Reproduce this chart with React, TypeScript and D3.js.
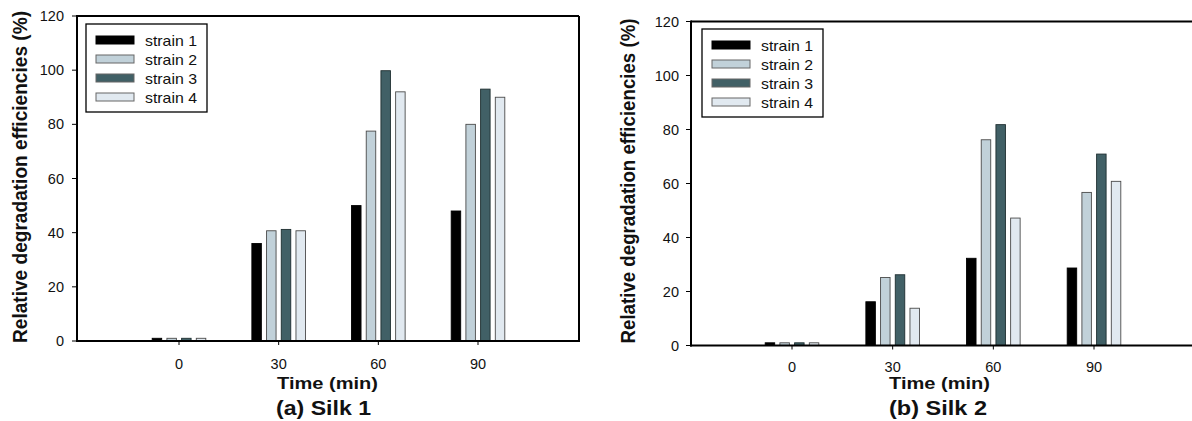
import React from "react";
import * as d3 from "d3";

const times = [0, 30, 60, 90];
const strains = ["strain 1", "strain 2", "strain 3", "strain 4"];
const silk1 = [
  [1, 36, 50, 48],
  [1, 40.7, 77.5, 80],
  [1, 41.2, 99.8, 93],
  [1, 40.7, 92, 90],
];
const silk2 = [
  [1, 16.2, 32.3, 28.7],
  [1, 25.2, 76.2, 56.7],
  [1, 26.2, 81.8, 70.9],
  [1, 13.8, 47.2, 60.8],
];
const yTicks = [0, 20, 40, 60, 80, 100, 120];
const colors = ["#000000", "#c1d1d9", "#416066", "#e1e9f0"];
const strokes = ["#000000", "#4a4a4a", "#1e2e30", "#4a4a4a"];

const FONT = "'Liberation Sans', Arial, Helvetica, sans-serif";

type PanelProps = {
  data: number[][];
  left: number;
  right: number;
  top: number;
  bottom: number;
  x0: number;
  x90: number;
  legend: { x: number; y: number };
  ytitle: { x: number; y: number; len: number };
  xtitle: { x: number; y: number };
  caption: { x: number; y: number; text: string; w: number };
  yLabelRight: number;
  xLabelY: number;
  showRight: boolean;
};

function Panel(p: PanelProps) {
  const x = d3.scaleLinear().domain([0, 90]).range([p.x0, p.x90]);
  const y = d3.scaleLinear().domain([0, 120]).range([p.bottom, p.top]);
  const band = d3
    .scaleBand<string>()
    .domain(strains)
    .range([-29.4, 29.4])
    .paddingInner(0.354)
    .paddingOuter(0.177);
  return (
    <g>
      {strains.map((s, si) =>
        times.map((t, ti) => {
          const v = p.data[si][ti];
          const bx = x(t) + (band(s) as number);
          return (
            <rect
              key={s + t}
              x={bx}
              y={y(v)}
              width={band.bandwidth()}
              height={p.bottom - y(v)}
              fill={colors[si]}
              stroke={strokes[si]}
              strokeWidth={0.9}
            />
          );
        })
      )}
      <line x1={p.left} x2={p.right} y1={p.top} y2={p.top} stroke="#000" strokeWidth={2} />
      {p.showRight && (
        <line x1={p.right} x2={p.right} y1={p.top} y2={p.bottom} stroke="#000" strokeWidth={2} />
      )}
      <line x1={p.left} x2={p.left} y1={p.top - 1} y2={p.bottom + 1} stroke="#000" strokeWidth={2} />
      <line x1={p.left - 1} x2={p.right + 1} y1={p.bottom} y2={p.bottom} stroke="#000" strokeWidth={2.2} />
      {yTicks.map((v) => (
        <g key={v}>
          <line x1={p.left - 5} x2={p.left} y1={y(v)} y2={y(v)} stroke="#000" strokeWidth={1} />
          <text
            x={p.yLabelRight}
            y={y(v)}
            textAnchor="end"
            dominantBaseline="central"
            fontFamily={FONT}
            fontSize={14.5}
            fill="#111"
          >
            {v}
          </text>
        </g>
      ))}
      {times.map((t) => (
        <g key={t}>
          <line x1={x(t)} x2={x(t)} y1={p.bottom} y2={p.bottom + 4} stroke="#000" strokeWidth={1} />
          <text
            x={x(t)}
            y={p.xLabelY}
            textAnchor="middle"
            dominantBaseline="central"
            fontFamily={FONT}
            fontSize={14.5}
            fill="#111"
          >
            {t}
          </text>
        </g>
      ))}
      <rect x={p.legend.x} y={p.legend.y} width={121} height={88} fill="#fff" stroke="#000" strokeWidth={1.3} />
      {strains.map((s, i) => (
        <g key={s}>
          <rect
            x={p.legend.x + 10}
            y={p.legend.y + 12 + i * 19}
            width={38}
            height={8}
            fill={colors[i]}
            stroke={i === 0 ? "#000" : "#666"}
            strokeWidth={1}
          />
          <text
            x={p.legend.x + 59}
            y={p.legend.y + 16.5 + i * 19}
            dominantBaseline="central"
            fontFamily={FONT}
            fontSize={14.5}
            textLength={52}
            lengthAdjust="spacingAndGlyphs"
            fill="#111"
          >
            {s}
          </text>
        </g>
      ))}
      <text
        transform={`translate(${p.ytitle.x},${p.ytitle.y}) rotate(-90)`}
        textAnchor="middle"
        dominantBaseline="central"
        fontFamily={FONT}
        fontWeight="bold"
        fontSize={19.5}
        textLength={p.ytitle.len}
        lengthAdjust="spacingAndGlyphs"
        fill="#111"
      >
        Relative degradation efficiencies (%)
      </text>
      <text
        x={p.xtitle.x}
        y={p.xtitle.y}
        textAnchor="middle"
        fontFamily={FONT}
        fontWeight="bold"
        fontSize={17}
        textLength={101}
        lengthAdjust="spacingAndGlyphs"
        fill="#111"
      >
        Time (min)
      </text>
      <text
        x={p.caption.x}
        y={p.caption.y}
        textAnchor="middle"
        fontFamily={FONT}
        fontWeight="bold"
        fontSize={20}
        textLength={p.caption.w}
        lengthAdjust="spacingAndGlyphs"
        fill="#111"
      >
        {p.caption.text}
      </text>
    </g>
  );
}

export default function App() {
  return (
    <svg
      width={1192}
      height={421}
      style={{ position: "absolute", left: 0, top: 0, background: "#fff" }}
    >
      <rect width={1192} height={421} fill="#fff" />
      <Panel
        data={silk1}
        left={77}
        right={579}
        top={16}
        bottom={341}
        x0={179}
        x90={478}
        legend={{ x: 86, y: 24 }}
        ytitle={{ x: 20, y: 177, len: 332 }}
        xtitle={{ x: 327.5, y: 389 }}
        caption={{ x: 323.5, y: 415, text: "(a) Silk 1", w: 95 }}
        yLabelRight={64}
        xLabelY={363.5}
        showRight={true}
      />
      <Panel
        data={silk2}
        left={691}
        right={1196}
        top={21.5}
        bottom={345.5}
        x0={792}
        x90={1094}
        legend={{ x: 702, y: 29 }}
        ytitle={{ x: 628, y: 181, len: 325 }}
        xtitle={{ x: 939.5, y: 389 }}
        caption={{ x: 938, y: 415, text: "(b) Silk 2", w: 98 }}
        yLabelRight={679}
        xLabelY={367}
        showRight={false}
      />
    </svg>
  );
}
